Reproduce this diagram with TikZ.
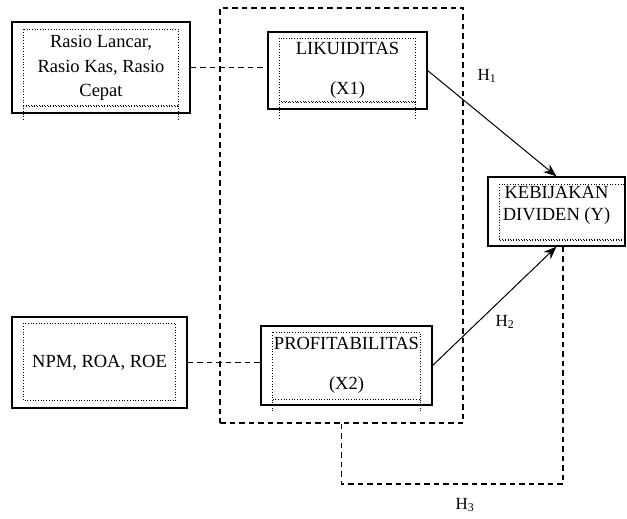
\documentclass[tikz,border=0pt]{standalone}
\usepackage{fontspec}
\setmainfont{Liberation Serif}
\usepackage{tikz}
\usetikzlibrary{
    arrows.meta,
    positioning
}
\tikzstyle{box} = [
    rectangle, draw,
    line width=1.2pt,
    text centered,
    align=center,
    inner sep=0pt,
    font=\fontsize{18.5}{22}\selectfont
]
\tikzstyle{inner} = [
    dotted,
    line width=0.7pt
]
\tikzstyle{link} = [
    line width=1.5pt,
    dash pattern=on 5.5pt off 4pt
]
\tikzstyle{arrow} = [
    line width=1pt,
    -{Stealth[length=13pt,width=10pt]}
]
\tikzstyle{hlabel} = [
    font=\fontsize{17}{20}\selectfont
]

\begin{document}
\begin{tikzpicture}[x=1pt, y={(0pt,-1pt)}]
    \useasboundingbox (0,0) rectangle (627,519);
    % group around the two variables
    \node[link, draw, minimum width=243pt, minimum height=415pt, inner sep=0pt] (grp) at (341.5,215.5) {};
    % indicator boxes
    \node[box, minimum width=178pt, minimum height=91pt] (ratio) at (101,67.5)
        {Rasio Lancar,\\[3pt] Rasio Kas, Rasio\\[2pt] Cepat};
    \node[box, minimum width=175pt, minimum height=91pt] (npm) at (99.5,362.5)
        {NPM, ROA, ROE};
    % variables
    \node[box, fill=white, minimum width=159pt, minimum height=77pt, font=\fontsize{18.5}{20}\selectfont] (likuid) at (347.5,70.5)
        {LIKUIDITAS\\ \\ (X1)};
    \node[box, fill=white, minimum width=171pt, minimum height=79pt, font=\fontsize{18.5}{20}\selectfont] (profit) at (346.5,365.5)
        {PROFITABILITAS\\ \\ (X2)};
    \node[box, minimum width=137pt, minimum height=69pt] (kebij) at (556.5,211.5)
        {KEBIJAKAN\\ DIVIDEN (Y)\\[-6pt]};
    % inner dotted frames
    \draw[inner] ([xshift=12pt,yshift=-8pt]ratio.north west) rectangle ([xshift=-12pt,yshift=8pt]ratio.south east);
    \draw[inner] ([xshift=12pt,yshift=7pt]ratio.south west) -- ([xshift=-12pt,yshift=7pt]ratio.south east);
    \draw[inner] ([xshift=12pt,yshift=8pt]ratio.south west) -- ++(0,15);
    \draw[inner] ([xshift=-12pt,yshift=8pt]ratio.south east) -- ++(0,15);
    \draw[inner] ([xshift=12pt,yshift=-7pt]npm.north west) rectangle ([xshift=-12pt,yshift=8pt]npm.south east);
    \draw[inner] ([xshift=12pt,yshift=-7pt]likuid.north west) rectangle ([xshift=-12pt,yshift=8pt]likuid.south east);
    \draw[inner] ([xshift=12pt,yshift=7pt]likuid.south west) -- ([xshift=-12pt,yshift=7pt]likuid.south east);
    \draw[inner] ([xshift=12pt,yshift=8pt]likuid.south west) -- ++(0,17);
    \draw[inner] ([xshift=-12pt,yshift=8pt]likuid.south east) -- ++(0,17);
    \draw[inner] ([xshift=12pt,yshift=-7pt]profit.north west) rectangle ([xshift=-12pt,yshift=6pt]profit.south east);
    \draw[inner] ([xshift=12pt,yshift=6pt]profit.south west) -- ++(0,11);
    \draw[inner] ([xshift=-12pt,yshift=6pt]profit.south east) -- ++(0,11);
    \draw[inner] ([xshift=12pt,yshift=-8pt]kebij.north west) rectangle ([xshift=0pt,yshift=6pt]kebij.south east);
    \draw[inner] ([xshift=12pt,yshift=7pt]kebij.south west) -- ([yshift=7pt]kebij.south east);
    % connectors
    \draw[link] (ratio.east) -- (ratio.east -| likuid.west);
    \draw[link] (npm.east) -- (npm.east -| profit.west);
    \draw[arrow] (likuid.east) -- (kebij.north);
    \draw[arrow] (profit.east) -- (kebij.south);
    \draw[link] (grp.south) -- ++(0,60) -| ([xshift=6.5pt]kebij.south);
    % hypotheses
    \node[hlabel] (h1) at (487,76) {H\textsubscript{1}};
    \node[hlabel] (h2) at (505,322) {H\textsubscript{2}};
    \node[hlabel] (h3) at (465,505) {H\textsubscript{3}};
\end{tikzpicture}
\end{document}
